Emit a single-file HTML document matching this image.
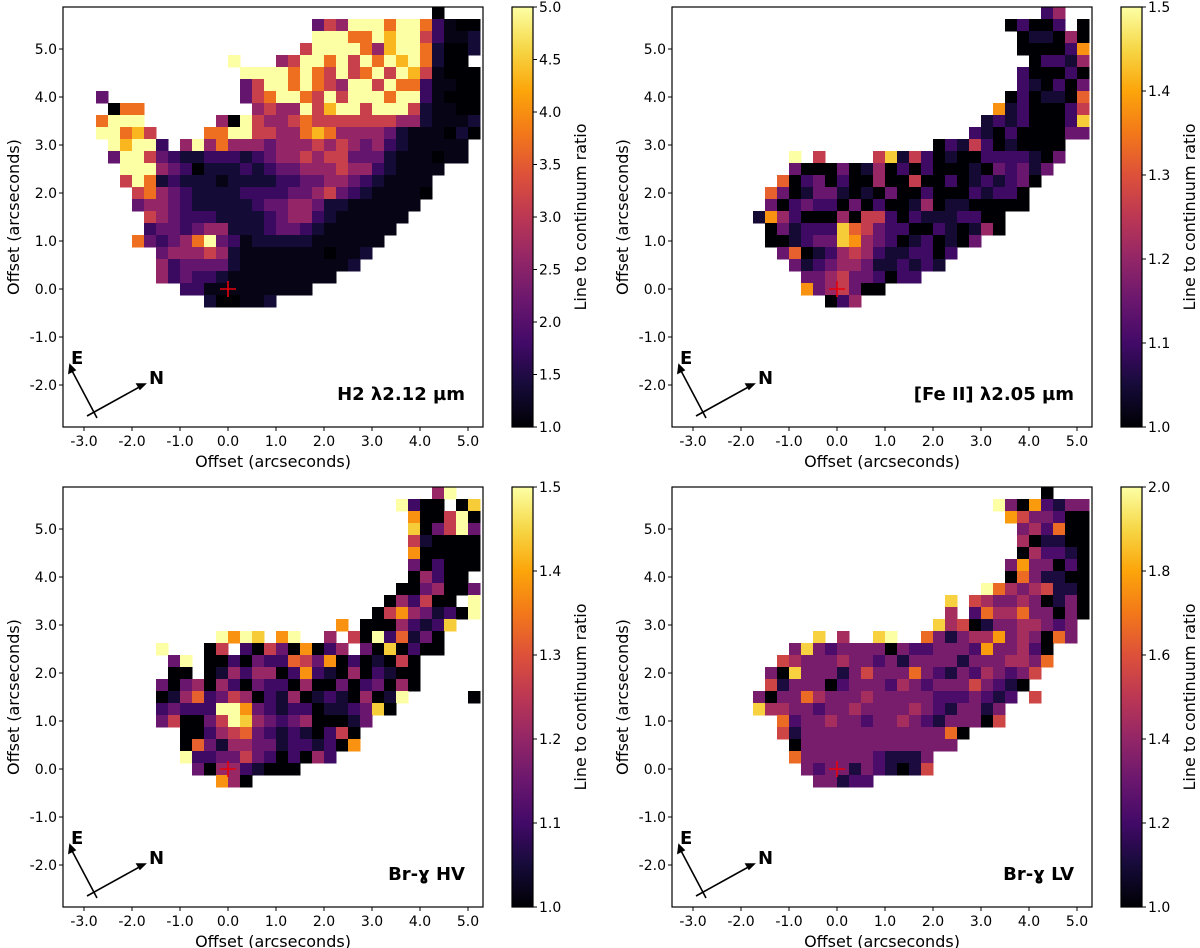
<!DOCTYPE html>
<html><head><meta charset="utf-8"><style>
html,body{margin:0;padding:0;background:#fff;width:1200px;height:948px;overflow:hidden}
svg{display:block}
text{font-family:"DejaVu Sans","Liberation Sans",sans-serif;fill:#000}
</style></head><body>
<svg id="fig" width="1200" height="948" viewBox="0 0 1200 948" xmlns="http://www.w3.org/2000/svg">
<defs>
<linearGradient id="inf" x1="0" y1="1" x2="0" y2="0">
<stop offset="0" stop-color="#000004"/><stop offset="0.1" stop-color="#160b39"/><stop offset="0.2" stop-color="#420a68"/><stop offset="0.3" stop-color="#6a176e"/><stop offset="0.4" stop-color="#932667"/><stop offset="0.5" stop-color="#bc3754"/><stop offset="0.6" stop-color="#dd513a"/><stop offset="0.7" stop-color="#f37819"/><stop offset="0.8" stop-color="#fca50a"/><stop offset="0.9" stop-color="#f6d746"/><stop offset="1" stop-color="#fcffa4"/>
</linearGradient>
</defs>
</svg>
<script>
// Map data: each row = "startColumn:levels" (level 0-9 of colour scale, '.' = no data)
// Grid: columns 0.25" wide starting at x=-2.75", rows 0.25" tall starting at y=5.875" (top)
const h2Rows = ["28:0","18:46599979973100","18:99977989963112","17:699997589972002","11:9...5699796979897200","12:99997976967969861000","12:46997976599697731100","0:4...........46799769699979931000","1:077.........5655968996999621100","0:7999......5096556766666665521112","0:99786....77996655787555542111020","1:98993.595755545556565453211111","1:499643223332345565664442111011","2:999543022232344555655321111","2:69723222122223344554321111","3:6754322223333445643211110","3:455432222234455422111111","4:6543332222345532111111","4:344345522234432111111","3:743457943122222111111","5:455565211111110112","5:53444421111111112","5:534332111111111","7:33111111111","9:200112"];
const feRows = ["28:24","25:02002.0","26:011040","26:000027","27:02214","26:200020","26:210203","25:0201106","24:71200025","23:121200028","22:2102000033","19:02152010000","7:9.5....5815201002222103","7:3000301402020001032313","6:6023020040050020121230","5:6301331010300200021220","5:3023220302001401100000","4:174200040552021112200","5:03122286532200210140","5:001233874320120103","6:360124542112202","7:3123443112121","8:3345332022","8:7345300","10:024"];
const hvRows = ["28:49","25:9200.08","26:700590","26:803593","26:510000","26:700000","26:302000","26:04200","25:0034003","24:042500.9","23:057431209","20:7.00042128","10:9798.79..4.50926130","5:9...05.205307024.3080200","6:39.002032265370201050","6:00.014244027210402100","5:3034042032204003023040","5:014623540214012104019.....0","5:23222997321220112380","5:350035984323400013","7:002456321210250","7:063144331221207","7:9223353202042","8:304421000","10:740"];
const lvRows = ["28:0","24:93072133","25:7533200","26:342600","26:401100","26:042210","25:3733020","25:0631100","23:964345110","20:8.5433430130","20:4.2644633030","19:845013344323","9:8.4..89..6313447343063","7:3832333303223332733420","6:54333433231333313334436","5:30833313533363213243235","5:5133302333243233353210","4:3033643334333332223212.5","4:844332334333343213313","6:6233433233432133305","6:5133333333333360","7:03333333333333","7:633333321113","8:32331321015","9:33122"];
// colour ranges
const h2Range = [1.0, 5.0], feRange = [1.0, 1.5], hvRange = [1.0, 1.5], lvRange = [1.0, 2.0];
const h2Ticks = ["1.0","1.5","2.0","2.5","3.0","3.5","4.0","4.5","5.0"];
const feTicks = ["1.0","1.1","1.2","1.3","1.4","1.5"];
const hvTicks = ["1.0","1.1","1.2","1.3","1.4","1.5"];
const lvTicks = ["1.0","1.2","1.4","1.6","1.8","2.0"];
const xTicks = ["-3.0","-2.0","-1.0","0.0","1.0","2.0","3.0","4.0","5.0"];
const yTicks = ["-2.0","-1.0","0.0","1.0","2.0","3.0","4.0","5.0"];
const titles = ["H2 λ2.12 µm","[Fe II] λ2.05 µm","Br-ɣ HV","Br-ɣ LV"];

const NS="http://www.w3.org/2000/svg";
const svg=document.getElementById('fig');
const stops=[[0,0,4],[22,11,57],[66,10,104],[106,23,110],[147,38,103],[188,55,84],[221,81,58],[243,120,25],[252,165,10],[246,215,70],[252,255,164]];
function inferno(t){t=Math.max(0,Math.min(1,t));const p=t*10,i=Math.min(9,Math.floor(p)),f=p-i;const a=stops[i],b=stops[i+1];return `rgb(${Math.round(a[0]+(b[0]-a[0])*f)},${Math.round(a[1]+(b[1]-a[1])*f)},${Math.round(a[2]+(b[2]-a[2])*f)})`;}
function mk(tag,attrs,parent){const e=document.createElementNS(NS,tag);for(const k in attrs)e.setAttribute(k,attrs[k]);(parent||svg).appendChild(e);return e;}

const panels=[
 {rows:h2Rows,range:h2Range,ticks:h2Ticks,dx:0,dy:0,name:'h2',gam:1.55},
 {rows:feRows,range:feRange,ticks:feTicks,dx:609,dy:0,name:'feii',gam:1.1},
 {rows:hvRows,range:hvRange,ticks:hvTicks,dx:0,dy:480,name:'brg-hv',gam:1.1},
 {rows:lvRows,range:lvRange,ticks:lvTicks,dx:609,dy:480,name:'brg-lv',gam:1.0}];

panels.forEach((P,pi)=>{
 const g=mk('g',{});
 
 
 const L=63+P.dx,T=7+P.dy,W=420,H=420,ox=228+P.dx,oy=289+P.dy,S=48;
 const X=v=>ox+S*v, Y=v=>oy-S*v;
 const [vmin,vmax]=P.range;
 const cg=mk('g',{'shape-rendering':'crispEdges'},g);
 
 
 P.rows.forEach((row,r)=>{
  const [s,d]=row.split(':');const start=+s;
  for(let k=0;k<d.length;k++){
   const ch=d[k];if(ch==='.')continue;
   const c=start+k;
   const value=vmin+Math.pow((+ch)/9,P.gam)*(vmax-vmin);
   const x0=X(-2.75+0.25*c),x1=X(-2.5+0.25*c),y0=Y(5.875-0.25*r),y1=Y(5.625-0.25*r);
   const rc=mk('rect',{x:x0,y:y0,width:x1-x0+0.3,height:y1-y0+0.3,fill:inferno((value-vmin)/(vmax-vmin))},cg);
   
   
  }
 });
 const fr=mk('rect',{x:L,y:T,width:W,height:H,fill:'none',stroke:'#000','stroke-width':1.2},g);
 
 
 xTicks.forEach(t=>{const v=parseFloat(t);const x=X(v);
  mk('line',{x1:x,y1:T+H,x2:x,y2:T+H+4,stroke:'#000'},g);
  const tx=mk('text',{x:x,y:T+H+19,'font-size':14,'text-anchor':'middle'},g);tx.textContent=t;
  
  });
 yTicks.forEach(t=>{const v=parseFloat(t);const y=Y(v);
  mk('line',{x1:L-4,y1:y,x2:L,y2:y,stroke:'#000'},g);
  const tx=mk('text',{x:L-6,y:y+5,'font-size':14,'text-anchor':'end'},g);tx.textContent=t;
  
  });
 const xl=mk('text',{x:L+W/2,y:T+H+40,'font-size':16,'text-anchor':'middle'},g);xl.textContent='Offset (arcseconds)';
 
 
 const yl=mk('text',{x:0,y:0,'font-size':16,'text-anchor':'middle',transform:`translate(${L-44},${T+H/2}) rotate(-90)`},g);yl.textContent='Offset (arcseconds)';
 
 
 const cr=mk('path',{d:`M${ox-8},${oy}H${ox+8}M${ox},${oy-8}V${oy+8}`,stroke:'#e8000b','stroke-width':1.6},g);
 
 
 const cp=mk('g',{stroke:'#000','stroke-width':1.6,fill:'none'},g);
 
 
 mk('path',{d:`M${L+34},${T+411}L${L+7},${T+360}`},cp);
 mk('path',{d:`M${L+7},${T+358}l-1,8l6,-3z`,fill:'#000'},cp);
 mk('path',{d:`M${L+24},${T+409}L${L+80},${T+378}`},cp);
 mk('path',{d:`M${L+82},${T+377}l-8,0l3,5z`,fill:'#000'},cp);
 const e=mk('text',{x:L+8,y:T+357,'font-size':18,'font-weight':'bold'},g);e.textContent='E';
 
 
 const n=mk('text',{x:L+86,y:T+377,'font-size':18,'font-weight':'bold'},g);n.textContent='N';
 
 
 const tt=mk('text',{x:L+402,y:T+393,'font-size':18,'font-weight':'bold','text-anchor':'end'},g);tt.textContent=titles[pi];
 
 
 const cx=512+P.dx,cw=21;
 const cb=mk('rect',{x:cx,y:T,width:cw,height:H,fill:'url(#inf)',stroke:'#000','stroke-width':1.2},g);
 
 
 P.ticks.forEach(t=>{const v=parseFloat(t);const y=T+H-(v-vmin)/(vmax-vmin)*H;
  mk('line',{x1:cx+cw,y1:y,x2:cx+cw+4,y2:y,stroke:'#000'},g);
  const tx=mk('text',{x:cx+cw+6,y:y+5,'font-size':14},g);tx.textContent=t;
  
  });
 const cl=mk('text',{x:0,y:0,'font-size':16,'text-anchor':'middle',transform:`translate(${cx+cw+53},${T+H/2}) rotate(-90)`},g);cl.textContent='Line to continuum ratio';
 
 
});
</script>
</body></html>
